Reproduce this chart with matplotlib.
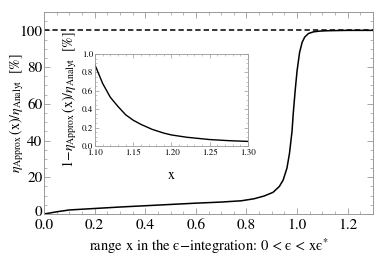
import matplotlib
matplotlib.use("Agg")
import matplotlib.pyplot as plt
import matplotlib.transforms as mtransforms
from matplotlib.ticker import MultipleLocator
import numpy as np

plt.rcParams['font.family'] = ['STIXGeneral', 'DejaVu Serif']
plt.rcParams['mathtext.fontset'] = 'stix'

# main curve data (x, ratio in %)
main_x = [0.0, 0.05, 0.1, 0.2, 0.3, 0.4, 0.5, 0.6, 0.7, 0.78, 0.83, 0.87, 0.905, 0.93, 0.945, 0.96, 0.97, 0.98, 0.985, 0.993, 1.0, 1.01, 1.02, 1.03, 1.045, 1.065, 1.09, 1.12, 1.2, 1.3]
main_y = [0.0, 1.2, 2.2, 3.0, 3.8, 4.5, 5.2, 5.9, 6.5, 7.2, 8.3, 9.8, 11.8, 15.0, 18.5, 25.0, 33.0, 45.0, 55.0, 68.0, 78.0, 88.0, 93.5, 96.3, 98.3, 99.2, 99.6, 99.8, 100.0, 100.0]

# inset data (x, 1 - ratio in %)
inset_x = [1.10, 1.11, 1.12, 1.13, 1.14, 1.15, 1.16, 1.175, 1.19, 1.20, 1.22, 1.25, 1.275, 1.30]
inset_y = [0.88, 0.68, 0.53, 0.43, 0.34, 0.28, 0.235, 0.18, 0.14, 0.12, 0.095, 0.07, 0.058, 0.05]

ref_level = 100

fig = plt.figure(figsize=(3.74, 2.64), dpi=100)
ax = fig.add_axes([44/374, 1-214/264, (373-44)/374, (214-12)/264])

ax.plot(main_x, main_y, color='black', lw=1.1)
ax.axhline(ref_level, color='black', lw=1.1, ls=(0, (3.5, 2)))
ax.set_xlim(0, 1.3)
ax.set_ylim(0, 110)
ax.set_xticks([0.0, 0.2, 0.4, 0.6, 0.8, 1.0, 1.2])
ax.set_xticklabels(['0.0', '0.2', '0.4', '0.6', '0.8', '1.0', '1.2'])
ax.set_yticks([0, 20, 40, 60, 80, 100])
ax.xaxis.set_minor_locator(MultipleLocator(0.05))
ax.yaxis.set_minor_locator(MultipleLocator(5))
ax.tick_params(which='both', direction='in', top=True, right=True, color='#999999', labelsize=11)
ax.tick_params(axis='x', pad=3.5)
ax.tick_params(axis='y', pad=1)
ax.tick_params(which='major', length=4, width=0.6)
ax.tick_params(which='minor', length=2, width=0.5)
for s in ax.spines.values():
    s.set_color('#999999')
    s.set_linewidth(0.7)
ax.set_xlabel('range x in the ϵ−integration: 0 < ϵ < xϵ$^{*}$', fontsize=10.5, labelpad=3)
ax.set_ylabel(r'$\eta_{\mathrm{Approx}}\,(\mathrm{x})/\eta_{\mathrm{Analyt}}$  [%]', fontsize=10)
ax.yaxis.set_label_coords(-0.056, 0.5)

# nudge the "0" y tick label up slightly so it doesn't collide with "0.0"
zero_lbl = ax.get_yticklabels()[0]
zero_lbl.set_transform(zero_lbl.get_transform() + mtransforms.ScaledTranslation(0, 2/72, fig.dpi_scale_trans))

ins = fig.add_axes([95/374, 1-146/264, (248-95)/374, (146-54)/264])
ins.plot(inset_x, inset_y, color='black', lw=1.0)
ins.set_xlim(1.10, 1.30)
ins.set_ylim(0, 1.0)
ins.set_xticks([1.10, 1.15, 1.20, 1.25, 1.30])
ins.set_xticklabels(['1.10', '1.15', '1.20', '1.25', '1.30'])
ins.set_yticks([0.0, 0.2, 0.4, 0.6, 0.8, 1.0])
ins.set_yticklabels(['0.0', '0.2', '0.4', '0.6', '0.8', '1.0'])
ins.xaxis.set_minor_locator(MultipleLocator(0.01))
ins.yaxis.set_minor_locator(MultipleLocator(0.05))
ins.tick_params(which='both', direction='in', top=True, right=True, color='#999999', labelsize=6.5)
ins.tick_params(axis='x', pad=2.5)
ins.tick_params(axis='y', pad=1.5)
ins.tick_params(which='major', length=3, width=0.5)
ins.tick_params(which='minor', length=1.5, width=0.4)
for s in ins.spines.values():
    s.set_color('#999999')
    s.set_linewidth(0.6)
ins.set_xlabel('x', fontsize=10, labelpad=8)
ins.set_ylabel(r'$1\!-\!\eta_{\mathrm{Approx}}\,(\mathrm{x})/\eta_{\mathrm{Analyt}}$  [%]', fontsize=10, labelpad=2)

fig.savefig('out.png', dpi=100)
